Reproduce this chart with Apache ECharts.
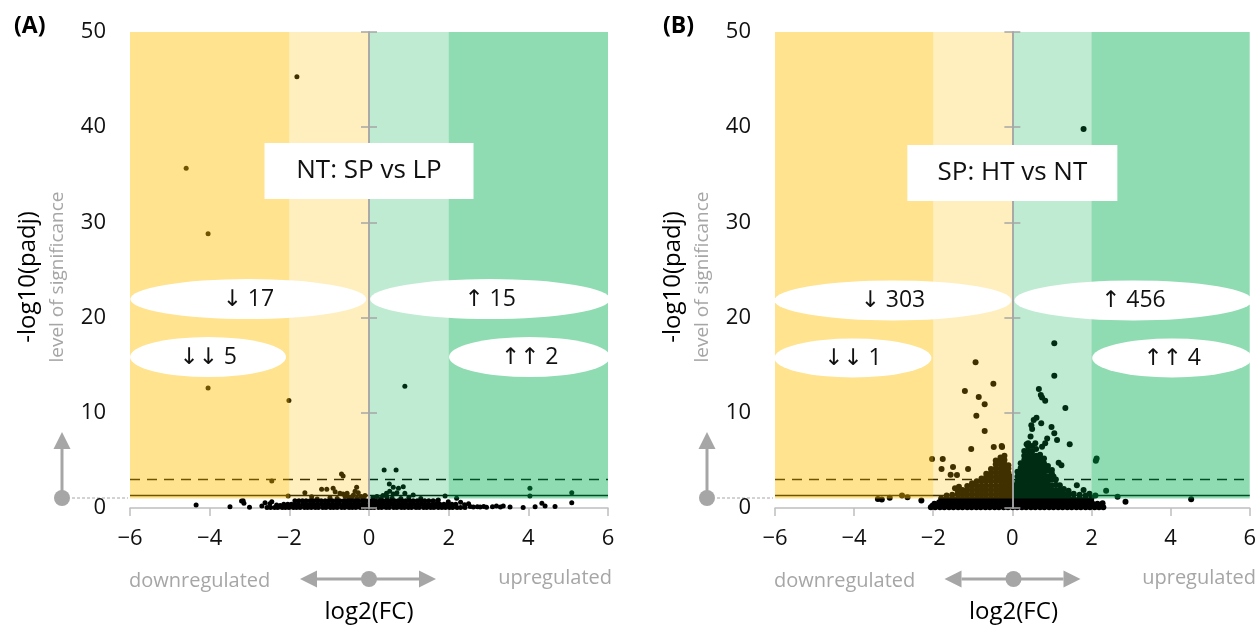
<!DOCTYPE html>
<html><head><meta charset="utf-8">
<script src="https://cdn.jsdelivr.net/npm/echarts@6/dist/echarts.min.js"></script>
<style>html,body{margin:0;padding:0;background:#fff;}#c{width:1259px;height:629px;}</style>
</head><body><div id="c"></div>
<script>
// ---------------- DATA ----------------
const panelLabels = ['(A)', '(B)'];
const panelTitles = ['NT: SP vs LP', 'SP: HT vs NT'];
const countLabelsA = ['↓ 17', '↑ 15', '↓↓ 5', '↑↑ 2'];
const countLabelsB = ['↓ 303', '↑ 456', '↓↓ 1', '↑↑ 4'];
const yAxisTitle = '-log10(padj)';
const yAxisSub = 'level of significance';
const xAxisTitle = 'log2(FC)';
const xLeftText = 'downregulated';
const xRightText = 'upregulated';
const xRange = [-6, 6], xStep = 2;
const yRange = [0, 50], yStep = 10;
// significance thresholds (-log10 padj): solid 0.05, dashed 0.001
const sigSolid = 1.3;
const sigDashed = 3;
// shaded regions [x0, x1, y0, y1, kind]
const bands = [
  [-6, -2, 1, 50, 'down2'],
  [-2, 0, 1, 50, 'down1'],
  [0, 2, 1, 50, 'up1'],
  [2, 6, 1, 50, 'up2']
];

// Panel A points
const A_outliers = [[-1.81,45.3],[-4.59,35.7],[-4.04,28.8],[-4.04,12.6],[-2.01,11.3],[0.90,12.8]];
const A_mid = [
  [-0.69,3.57],[-0.65,3.35],[0.38,4.0],[0.68,4.0],[-2.44,2.84],[4.04,2.07],[5.09,1.6],[4.04,1.26],
  [-1.61,1.6],[-2.03,1.26],[-1.44,1.19],[-1.19,1.96],[-1.06,1.96],[-0.9,2.07],[-0.85,1.71],[-0.73,1.54],
  [-0.31,2.17],[-0.27,1.6],[-0.39,1.37],[-0.56,1.37],[-0.65,1.47],
  [0.51,2.52],[0.61,2.17],[0.86,2.24],[0.74,2.07],[0.44,1.54],[0.61,1.47],[0.7,1.6],[0.9,1.54],[1.11,1.37],
  [1.91,1.26],[2.2,1.02],[1.74,0.84],[1.99,0.66],
  [-0.6,1.2],[-0.5,1.1],[-0.42,1.18],[-0.3,1.02],[-0.2,1.22],[-0.14,1.05],[-0.8,1.0],[-0.98,1.08],[-1.3,0.95],[-0.1,1.3],
  [0.1,1.1],[0.2,1.22],[0.3,1.0],[0.45,1.12],[0.58,1.02],[0.8,1.0],[1.0,1.1],[1.3,1.0],[0.35,1.3],[-0.55,1.55],[0.52,1.75],[-0.35,1.75]
];
const A_tail = [
  [-4.34,0.32],[-3.49,0.14],[-3.2,0.74],[-3.14,0.5],[-3.0,0.07],[-2.69,0.2],[-2.44,0.66],[-2.32,0.32],[-3.16,0.77],[-2.61,0.55],[-2.49,0.45],[-2.23,0.25],
  [2.54,0.15],[2.62,0.1],[2.72,0.12],[2.79,0.1],[2.88,0.15],[2.95,0.08],[3.1,0.12],[3.2,0.2],[3.3,0.1],[3.37,0.22],[3.54,0.1],[3.87,0.06],
  [4.17,0.14],[4.34,0.49],[4.42,0.2],[4.67,0.15],[5.09,0.56],[2.4,0.35],[2.3,0.6],[2.5,0.45]
];
const A_stripY = [0.06, 0.4, 0.75];
const A_stripX0 = [-2.56,-2.47,-2.37,-2.29,-2.18,-2.1,-2.01,-1.9,-1.82,-1.73,-1.62,-1.54,-1.45,-1.35,-1.27,-1.16,-1.08,-0.97,-0.89,-0.8,-0.69,-0.61,-0.5,-0.42,-0.33,-0.22,-0.14,-0.05,0.05,0.13,0.24,0.32,0.43,0.51,0.62,0.7,0.81,0.89,0.99,1.07,1.18,1.26,1.37,1.45,1.55,1.63,1.74,1.83,1.92,2.02,2.1,2.21,2.3,2.41];
const A_stripX1 = [-2.14,-2.04,-1.95,-1.86,-1.77,-1.66,-1.58,-1.48,-1.39,-1.3,-1.2,-1.11,-1.02,-0.92,-0.83,-0.74,-0.64,-0.56,-0.46,-0.37,-0.28,-0.18,-0.09,0.02,0.1,0.2,0.29,0.38,0.48,0.57,0.66,0.76,0.85,0.94,1.04,1.13,1.22,1.32,1.41,1.5,1.6,1.69,1.78,1.88,1.97,2.08,2.18];
const A_stripX2 = [-1.86,-1.76,-1.67,-1.58,-1.48,-1.39,-1.29,-1.2,-1.1,-1.01,-0.92,-0.82,-0.73,-0.63,-0.54,-0.45,-0.35,-0.26,-0.16,-0.07,0.07,0.16,0.26,0.35,0.45,0.54,0.64,0.73,0.83,0.92,1.02,1.11,1.21,1.3,1.4,1.5,1.61,1.72];

// Panel B points
const B_upOutliers = [
  [1.8,39.8],[1.06,17.3],[1.06,13.9],[0.67,12.5],[0.72,11.87],[0.75,11.6],[0.83,11.27],[1.34,10.5],[0.61,9.49],[0.54,9.24],
  [0.73,8.9],[0.48,8.7],[0.99,8.5],[0.5,8.3],[1.06,7.84],[0.46,7.5],[0.88,7.3],[1.13,7.14],[1.45,6.7],[0.36,6.7],[0.58,6.8],
  [0.75,6.44],[0.83,6.8],[1.17,4.76],[1.24,4.5],[1.0,4.0],[1.04,3.3],[2.13,5.2],[2.11,4.97],
  [1.63,2.4],[1.8,1.9],[1.95,1.5],[2.1,1.3],[2.37,1.82],[2.66,1.19],[2.86,0.66],[4.52,0.91],[2.28,0.49]
];
const B_downOutliers = [
  [-0.93,15.3],[-0.48,13.06],[-1.2,12.3],[-0.85,11.66],[-0.7,10.9],[-0.91,9.7],[-0.7,8.1],[-1.04,6.2],[-0.47,6.4],[-0.27,6.5],
  [-0.26,6.4],[-2.03,5.15],[-1.76,5.15],[-1.79,4.1],[-1.5,4.3],[-1.12,4.1],[-1.56,3.5],[-1.4,3.47],[-1.45,2.07],[-1.35,2.24],
  [-3.4,0.94],[-3.3,0.9],[-3.1,1.08],[-2.79,1.3],[-2.65,1.12],[-2.3,0.8],[-2.02,0.24],[-1.85,0.6],[-1.72,0.49]
];
const B_downCols = [
  [-1.8,[1.0]],[-1.66,[1.0,1.3]],[-1.52,[1.0,1.4]],[-1.38,[1.0,1.45,1.8]],[-1.26,[1.0,1.45,1.9]],
  [-1.14,[1.0,1.45,1.9,2.3]],[-1.02,[1.0,1.45,1.9,2.35,2.6]],[-0.9,[1.0,1.45,1.9,2.35,2.8]],
  [-0.78,[1.0,1.45,1.9,2.35,2.8,3.1]],[-0.66,[1.0,1.45,1.9,2.35,2.8,3.25,3.6]],
  [-0.54,[1.0,1.45,1.9,2.35,2.8,3.25,3.7,4.1]],[-0.42,[1.0,1.45,1.9,2.35,2.8,3.25,3.7,4.15,4.6,5.0]],
  [-0.3,[1.0,1.45,1.9,2.35,2.8,3.25,3.7,4.15,4.6,5.05,5.3]],[-0.2,[1.0,1.45,1.9,2.35,2.8,3.25,3.7,4.15,4.6,5.05,5.5]],
  [-0.1,[1.0,1.45,1.9,2.35,2.8,3.25,3.7,4.15,4.5]],[-0.04,[1.0,1.45,1.9,2.35,2.8,3.3]]
];
const B_upCols = [
  [0.06,[1.0,1.45,1.9,2.4]],[0.13,[1.0,1.45,1.9,2.35,2.8,3.3,3.8]],[0.21,[1.0,1.45,1.9,2.35,2.8,3.25,3.7,4.2,4.7]],
  [0.3,[1.0,1.45,1.9,2.35,2.8,3.25,3.7,4.15,4.6,5.05,5.5,6.0]],
  [0.4,[1.0,1.45,1.9,2.35,2.8,3.25,3.7,4.15,4.6,5.05,5.5,5.95,6.4,6.8]],
  [0.5,[1.0,1.45,1.9,2.35,2.8,3.25,3.7,4.15,4.6,5.05,5.5,5.95,6.5]],
  [0.6,[1.0,1.45,1.9,2.35,2.8,3.25,3.7,4.15,4.6,5.05,5.5,6.2]],
  [0.7,[1.0,1.45,1.9,2.35,2.8,3.25,3.7,4.15,4.6,5.1,5.6]],
  [0.8,[1.0,1.45,1.9,2.35,2.8,3.25,3.7,4.2,4.7,5.2]],
  [0.9,[1.0,1.45,1.9,2.35,2.8,3.3,3.9,4.4]],[1.0,[1.0,1.45,1.9,2.4,3.0,3.6]],[1.1,[1.0,1.45,1.9,2.45,3.0]],
  [1.2,[1.0,1.45,1.9,2.4]],[1.3,[1.0,1.5,2.0]],[1.42,[1.0,1.4,1.8]],[1.55,[1.0,1.5]],[1.7,[1.0,1.4]],[1.85,[1.05,1.3]],[2.0,[1.05]]
];
const B_stripY = [0.08, 0.45, 0.82];
const B_stripX0 = [-2.06,-1.95,-1.83,-1.72,-1.6,-1.49,-1.37,-1.26,-1.14,-1.03,-0.91,-0.8,-0.68,-0.57,-0.45,-0.34,-0.22,-0.11,0.01,0.12,0.24,0.35,0.47,0.58,0.7,0.81,0.93,1.04,1.16,1.27,1.39,1.5,1.62,1.73,1.85,1.96,2.08,2.19,2.3];
const B_stripX1 = [-1.97,-1.86,-1.74,-1.63,-1.51,-1.4,-1.28,-1.17,-1.05,-0.94,-0.82,-0.71,-0.59,-0.48,-0.36,-0.25,-0.13,-0.02,0.08,0.19,0.31,0.42,0.54,0.65,0.77,0.88,1.0,1.11,1.23,1.34,1.46,1.57,1.69,1.8,1.92,2.03,2.15];
const B_stripX2 = [-1.72,-1.6,-1.49,-1.37,-1.26,-1.14,-1.03,-0.91,-0.8,-0.68,-0.57,-0.45,-0.34,-0.22,-0.11,0.04,0.15,0.27,0.38,0.5,0.61,0.73,0.84,0.96,1.07,1.19,1.3,1.42,1.53,1.65,1.76,1.88,1.99];

// ---------------- BUILD ----------------
function rowPts(xs, y) { return xs.map(x => [x, y]); }
function colPts(cols) { const out = []; cols.forEach(c => c[1].forEach(y => out.push([c[0], y]))); return out; }
const pointsA = [].concat(A_outliers, A_mid, A_tail,
  rowPts(A_stripX0, A_stripY[0]), rowPts(A_stripX1, A_stripY[1]), rowPts(A_stripX2, A_stripY[2]));
const pointsB = [].concat(B_upOutliers, B_downOutliers, colPts(B_downCols), colPts(B_upCols),
  rowPts(B_stripX0, B_stripY[0]), rowPts(B_stripX1, B_stripY[1]), rowPts(B_stripX2, B_stripY[2]));

const FONT = '"Open Sans", "DejaVu Sans", sans-serif';
const GRAY = '#A6A6A6';
const bandFill = {
  down2: 'rgba(255,192,0,0.4375)', down1: 'rgba(255,192,0,0.25)',
  up1: 'rgba(0,176,80,0.25)', up2: 'rgba(0,176,80,0.4375)'
};
const grids = [
  { left: 130, top: 32, width: 478, height: 476 },
  { left: 775, top: 32, width: 477, height: 476 }
];
// annotation layout: [xCenter, yCenter (data), widthPx, heightPx]
const ellLayout = [
  [[-3.03, 21.95, 236, 40], [3.04, 21.95, 240, 40], [-4.04, 15.86, 156, 40], [4.03, 15.86, 161, 40]],
  [[-3.02, 21.8, 237, 40], [3.06, 21.8, 238, 40], [-4.03, 15.76, 157, 39], [4.04, 15.76, 160, 39]]
];
const boxLayout = [[0, 35.4, 209, 56], [0, 35.2, 210, 56]];
const ELLIPSE = 'path://M0,50A50,50,0,1,1,100,50A50,50,0,1,1,0,50Z';

const xAxes = [], yAxes = [], series = [];
[0, 1].forEach(gi => {
  xAxes.push({
    gridIndex: gi, type: 'value', min: xRange[0], max: xRange[1], interval: xStep,
    axisLine: { onZero: false, lineStyle: { color: '#BFBFBF', width: 1.5 } },
    axisTick: { show: true, length: 8, lineStyle: { color: '#BFBFBF', width: 1.5 } },
    splitLine: { show: false },
    axisLabel: { fontSize: 22, color: '#111', margin: 20, fontFamily: FONT,
      formatter: v => String(v).replace('-', '\u2212') }
  });
  const yBase = { gridIndex: gi, type: 'value', min: yRange[0], max: yRange[1], interval: yStep, splitLine: { show: false } };
  yAxes.push(Object.assign({}, yBase, {
    position: 'left', axisLine: { show: false, onZero: false }, axisTick: { show: false },
    axisLabel: { fontSize: 22, color: '#111', margin: 24, fontFamily: FONT }
  }));
  ['left', 'right'].forEach(pos => {
    yAxes.push(Object.assign({}, yBase, {
      position: pos, z: 7,
      axisLine: { show: true, onZero: true, onZeroAxisIndex: gi, lineStyle: { color: GRAY, width: 1.5 } },
      axisTick: { show: true, length: 8, lineStyle: { color: GRAY, width: 1.5 } },
      axisLabel: { show: false }
    }));
  });
  const yi = gi * 3;
  // points
  series.push({
    type: 'scatter', xAxisIndex: gi, yAxisIndex: yi, z: 2, silent: true,
    symbolSize: gi === 0 ? 5 : 6, itemStyle: { color: '#000', opacity: 1 },
    data: gi === 0 ? pointsA : pointsB
  });
  // threshold lines
  [[sigSolid, 'solid'], [sigDashed, [10, 7]]].forEach(t => {
    series.push({
      type: 'line', xAxisIndex: gi, yAxisIndex: yi, z: 3, silent: true, symbol: 'none',
      lineStyle: { color: '#000', width: 1.5, type: t[1] },
      data: [[xRange[0], t[0]], [xRange[1], t[0]]]
    });
  });
  // shaded overlay bands
  series.push({
    type: 'custom', xAxisIndex: gi, yAxisIndex: yi, z: 5, silent: true,
    data: bands.map(b => [b[0], b[1], b[2], b[3]]),
    encode: { x: [0, 1], y: [2, 3] },
    renderItem: (params, api) => {
      const p0 = api.coord([api.value(0), api.value(3)]);
      const p1 = api.coord([api.value(1), api.value(2)]);
      return { type: 'rect', shape: { x: p0[0], y: p0[1], width: p1[0] - p0[0], height: p1[1] - p0[1] },
        style: { fill: bandFill[bands[params.dataIndex][4]] } };
    }
  });
  // annotations: title box + count ellipses
  const counts = gi === 0 ? countLabelsA : countLabelsB;
  const annData = [];
  const bl = boxLayout[gi];
  annData.push({ name: panelTitles[gi], value: [bl[0], bl[1]], symbol: 'rect', symbolSize: [bl[2], bl[3]],
    label: { fontSize: 26 } });
  counts.forEach((txt, i) => {
    const e = ellLayout[gi][i];
    annData.push({ name: txt, value: [e[0], e[1]], symbol: ELLIPSE, symbolSize: [e[2], e[3]], label: { fontSize: 23 } });
  });
  series.push({
    type: 'scatter', xAxisIndex: gi, yAxisIndex: yi, z: 10, silent: true, clip: false,
    itemStyle: { color: '#fff', opacity: 1 },
    label: { show: true, position: 'inside', formatter: '{b}', color: '#111', fontFamily: FONT },
    emphasis: { disabled: true },
    data: annData
  });
});

// decorations (titles, arrows)
const graphics = [];
grids.forEach((g, gi) => {
  const L = g.left, zx = g.left + g.width / 2, R = g.left + g.width;
  graphics.push({ type: 'text', x: gi === 0 ? 14 : 663, y: 26,
    style: { text: panelLabels[gi], font: 'bold 23px ' + FONT, fill: '#000', textVerticalAlign: 'middle' } });
  graphics.push({ type: 'text', x: L - 102, y: 277, rotation: Math.PI / 2,
    style: { text: yAxisTitle, font: '24px ' + FONT, fill: '#000', textAlign: 'center', textVerticalAlign: 'middle' } });
  graphics.push({ type: 'text', x: L - 72, y: 277, rotation: Math.PI / 2,
    style: { text: yAxisSub, font: '19px ' + FONT, fill: GRAY, textAlign: 'center', textVerticalAlign: 'middle' } });
  // vertical arrow
  const ax = L - 68;
  graphics.push({ type: 'line', shape: { x1: ax + 10, y1: 498, x2: L - 2, y2: 498 },
    style: { stroke: GRAY, lineWidth: 1, lineDash: [3, 2] } });
  graphics.push({ type: 'line', shape: { x1: ax, y1: 498, x2: ax, y2: 448 }, style: { stroke: GRAY, lineWidth: 3 } });
  graphics.push({ type: 'polygon', shape: { points: [[ax - 8.5, 449], [ax + 8.5, 449], [ax, 432]] }, style: { fill: GRAY } });
  graphics.push({ type: 'circle', shape: { cx: ax, cy: 498, r: 8 }, style: { fill: GRAY } });
  // horizontal arrow
  graphics.push({ type: 'line', shape: { x1: zx - 52, y1: 579, x2: zx + 50, y2: 579 }, style: { stroke: GRAY, lineWidth: 3 } });
  graphics.push({ type: 'polygon', shape: { points: [[zx - 69, 579], [zx - 52, 570.5], [zx - 52, 587.5]] }, style: { fill: GRAY } });
  graphics.push({ type: 'polygon', shape: { points: [[zx + 67, 579], [zx + 50, 570.5], [zx + 50, 587.5]] }, style: { fill: GRAY } });
  graphics.push({ type: 'circle', shape: { cx: zx, cy: 579, r: 8 }, style: { fill: GRAY } });
  graphics.push({ type: 'text', x: L - 1, y: 581,
    style: { text: xLeftText, font: '20px ' + FONT, fill: GRAY, textVerticalAlign: 'middle' } });
  graphics.push({ type: 'text', x: R + 4, y: 578,
    style: { text: xRightText, font: '20px ' + FONT, fill: GRAY, textAlign: 'right', textVerticalAlign: 'middle' } });
  graphics.push({ type: 'text', x: zx, y: 612,
    style: { text: xAxisTitle, font: '24px ' + FONT, fill: '#000', textAlign: 'center', textVerticalAlign: 'middle' } });
});

const chart = echarts.init(document.getElementById('c'), null, { renderer: 'canvas' });
chart.setOption({
  animation: false,
  backgroundColor: '#fff',
  textStyle: { fontFamily: FONT },
  grid: grids,
  xAxis: xAxes,
  yAxis: yAxes,
  series: series,
  graphic: { elements: graphics }
});
</script></body></html>
